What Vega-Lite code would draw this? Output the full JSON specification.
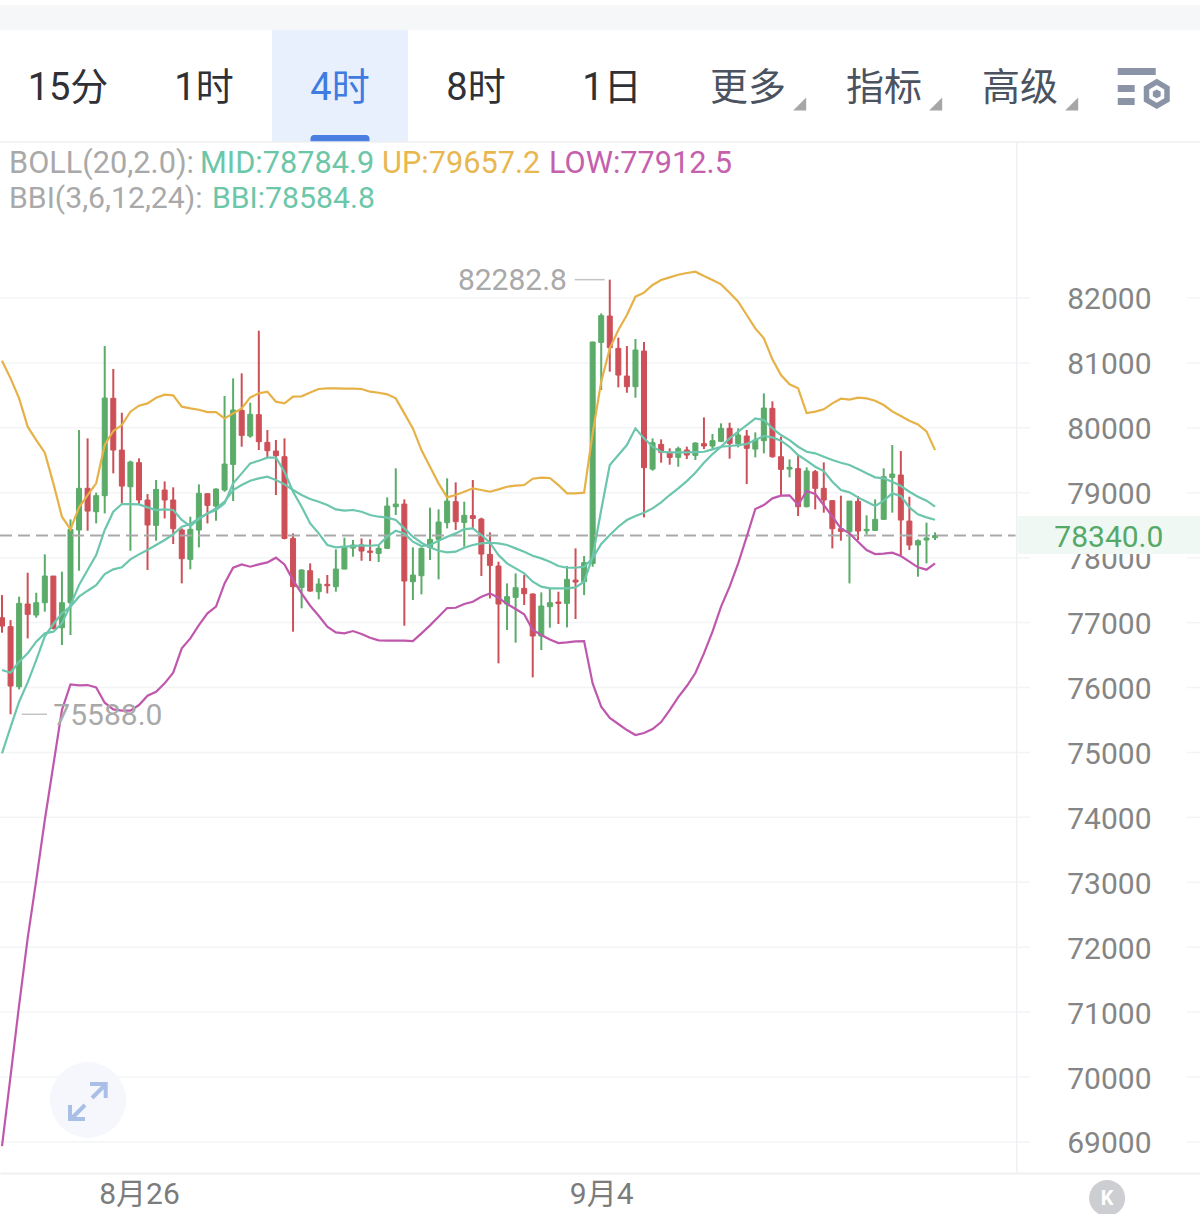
{"$schema":"https://vega.github.io/schema/vega-lite/v6.json","padding":{"left":-3,"right":0,"top":0,"bottom":0},"spacing":0,"bounds":"flush","background":"white","config":{"view":{"stroke":null},"concat":{"spacing":0},"text":{"font":"Roboto, 'Noto Sans CJK SC'"}},
"datasets":{"k":[
{"i":0,"o":77075,"h":77424,"l":76844,"c":76947,"up":81034,"mid":74985,"low":68937,"bbi":76269},
{"i":1,"o":76937,"h":77039,"l":75588,"c":76023,"up":80762,"mid":75391,"low":70015,"bbi":76228},
{"i":2,"o":76012,"h":77399,"l":75971,"c":77296,"up":80454,"mid":75781,"low":71109,"bbi":76397},
{"i":3,"o":77286,"h":77768,"l":76757,"c":77127,"up":80018,"mid":76079,"low":72141,"bbi":76526},
{"i":4,"o":77116,"h":77460,"l":77075,"c":77306,"up":79812,"mid":76423,"low":73034,"bbi":76706},
{"i":5,"o":77306,"h":78051,"l":77168,"c":77717,"up":79617,"mid":76788,"low":73959,"bbi":76834},
{"i":6,"o":77717,"h":77717,"l":76895,"c":76911,"up":79145,"mid":76978,"low":74806,"bbi":76860},
{"i":7,"o":76921,"h":77784,"l":76654,"c":77306,"up":78631,"mid":77142,"low":75653,"bbi":76988},
{"i":8,"o":77306,"h":78590,"l":76808,"c":78436,"up":78436,"mid":77245,"low":76048,"bbi":77270},
{"i":9,"o":78426,"h":79966,"l":77799,"c":79068,"up":78775,"mid":77399,"low":76033,"bbi":77578},
{"i":10,"o":79068,"h":79838,"l":78415,"c":78718,"up":78965,"mid":77491,"low":76038,"bbi":77810},
{"i":11,"o":78708,"h":79001,"l":78528,"c":78955,"up":79145,"mid":77578,"low":76002,"bbi":78041},
{"i":12,"o":78955,"h":81260,"l":78682,"c":80459,"up":79735,"mid":77748,"low":75766,"bbi":78426},
{"i":13,"o":80454,"h":80906,"l":79299,"c":79658,"up":79951,"mid":77820,"low":75663,"bbi":78708},
{"i":14,"o":79658,"h":80233,"l":78836,"c":79103,"up":80043,"mid":77851,"low":75643,"bbi":78826},
{"i":15,"o":79093,"h":79494,"l":78107,"c":79473,"up":80249,"mid":77974,"low":75643,"bbi":78826},
{"i":16,"o":79463,"h":79530,"l":78826,"c":78888,"up":80341,"mid":78051,"low":75730,"bbi":78821},
{"i":17,"o":78888,"h":78980,"l":77810,"c":78503,"up":80377,"mid":78118,"low":75874,"bbi":78775},
{"i":18,"o":78498,"h":79196,"l":78261,"c":79052,"up":80464,"mid":78195,"low":75935,"bbi":78734},
{"i":19,"o":79042,"h":79175,"l":78605,"c":78888,"up":80511,"mid":78272,"low":76064,"bbi":78744},
{"i":20,"o":78888,"h":79083,"l":78210,"c":78446,"up":80500,"mid":78359,"low":76228,"bbi":78734},
{"i":21,"o":78426,"h":78451,"l":77604,"c":77984,"up":80326,"mid":78477,"low":76603,"bbi":78580},
{"i":22,"o":77974,"h":78631,"l":77820,"c":78436,"up":80300,"mid":78518,"low":76757,"bbi":78487},
{"i":23,"o":78426,"h":79129,"l":78159,"c":78991,"up":80279,"mid":78605,"low":76962,"bbi":78595},
{"i":24,"o":78985,"h":78991,"l":78528,"c":78806,"up":80243,"mid":78682,"low":77142,"bbi":78682},
{"i":25,"o":78795,"h":79068,"l":78569,"c":79057,"up":80243,"mid":78759,"low":77245,"bbi":78734},
{"i":26,"o":79042,"h":80490,"l":79016,"c":79442,"up":80146,"mid":78862,"low":77604,"bbi":78836},
{"i":27,"o":79437,"h":80762,"l":78872,"c":80274,"up":80223,"mid":79042,"low":77845,"bbi":79145},
{"i":28,"o":80269,"h":80839,"l":79709,"c":79884,"up":80300,"mid":79119,"low":77897,"bbi":79299},
{"i":29,"o":79874,"h":80387,"l":79848,"c":80208,"up":80469,"mid":79186,"low":77861,"bbi":79453},
{"i":30,"o":80202,"h":81496,"l":79658,"c":79787,"up":80531,"mid":79222,"low":77897,"bbi":79494},
{"i":31,"o":79776,"h":79966,"l":79545,"c":79648,"up":80557,"mid":79247,"low":77928,"bbi":79540},
{"i":32,"o":79643,"h":79812,"l":78965,"c":79571,"up":80403,"mid":79196,"low":78000,"bbi":79540},
{"i":33,"o":79555,"h":79838,"l":78282,"c":78297,"up":80377,"mid":79129,"low":77897,"bbi":79324},
{"i":34,"o":78297,"h":78374,"l":76860,"c":77553,"up":80480,"mid":79042,"low":77655,"bbi":79016},
{"i":35,"o":77542,"h":77820,"l":77219,"c":77810,"up":80485,"mid":78965,"low":77450,"bbi":78785},
{"i":36,"o":77799,"h":77912,"l":77476,"c":77486,"up":80546,"mid":78903,"low":77260,"bbi":78528},
{"i":37,"o":77476,"h":77681,"l":77358,"c":77594,"up":80598,"mid":78862,"low":77106,"bbi":78374},
{"i":38,"o":77589,"h":77733,"l":77450,"c":77568,"up":80608,"mid":78811,"low":76937,"bbi":78195},
{"i":39,"o":77553,"h":78128,"l":77476,"c":77825,"up":80608,"mid":78744,"low":76849,"bbi":78159},
{"i":40,"o":77825,"h":78308,"l":77820,"c":78169,"up":80603,"mid":78724,"low":76834,"bbi":78169},
{"i":41,"o":78148,"h":78272,"l":78015,"c":78195,"up":80603,"mid":78734,"low":76870,"bbi":78179},
{"i":42,"o":78195,"h":78297,"l":77953,"c":78102,"up":80598,"mid":78708,"low":76824,"bbi":78190},
{"i":43,"o":78102,"h":78282,"l":77948,"c":78082,"up":80557,"mid":78657,"low":76767,"bbi":78184},
{"i":44,"o":78066,"h":78195,"l":77933,"c":78143,"up":80541,"mid":78631,"low":76726,"bbi":78195},
{"i":45,"o":78143,"h":78929,"l":78143,"c":78795,"up":80516,"mid":78616,"low":76721,"bbi":78323},
{"i":46,"o":78785,"h":79376,"l":78657,"c":78826,"up":80454,"mid":78580,"low":76721,"bbi":78415},
{"i":47,"o":78826,"h":78898,"l":76952,"c":77640,"up":80223,"mid":78451,"low":76721,"bbi":78374},
{"i":48,"o":77630,"h":78159,"l":77347,"c":77732,"up":79992,"mid":78323,"low":76716,"bbi":78246},
{"i":49,"o":77722,"h":78159,"l":77435,"c":78143,"up":79658,"mid":78230,"low":76834,"bbi":78179},
{"i":50,"o":78159,"h":78770,"l":77964,"c":78282,"up":79401,"mid":78159,"low":76957,"bbi":78195},
{"i":51,"o":78282,"h":78744,"l":77666,"c":78549,"up":79145,"mid":78107,"low":77091,"bbi":78261},
{"i":52,"o":78539,"h":79222,"l":78451,"c":78872,"up":78929,"mid":78082,"low":77224,"bbi":78323},
{"i":53,"o":78862,"h":79160,"l":78426,"c":78554,"up":78965,"mid":78092,"low":77229,"bbi":78374},
{"i":54,"o":78544,"h":78862,"l":78169,"c":78652,"up":79016,"mid":78154,"low":77286,"bbi":78441},
{"i":55,"o":78647,"h":79196,"l":78451,"c":78605,"up":79068,"mid":78195,"low":77322,"bbi":78451},
{"i":56,"o":78595,"h":78616,"l":77717,"c":78056,"up":79042,"mid":78220,"low":77399,"bbi":78349},
{"i":57,"o":78051,"h":78390,"l":77373,"c":77881,"up":79016,"mid":78230,"low":77450,"bbi":78230},
{"i":58,"o":77871,"h":77938,"l":76372,"c":77286,"up":79052,"mid":78220,"low":77383,"bbi":78041},
{"i":59,"o":77286,"h":77604,"l":76885,"c":77399,"up":79093,"mid":78195,"low":77286,"bbi":77912},
{"i":60,"o":77388,"h":77758,"l":76690,"c":77537,"up":79109,"mid":78143,"low":77209,"bbi":77835},
{"i":61,"o":77527,"h":77733,"l":77270,"c":77445,"up":79119,"mid":78092,"low":77127,"bbi":77758},
{"i":62,"o":77440,"h":77450,"l":76156,"c":76793,"up":79216,"mid":78030,"low":76885,"bbi":77630},
{"i":63,"o":76793,"h":77465,"l":76577,"c":77255,"up":79232,"mid":77989,"low":76808,"bbi":77553},
{"i":64,"o":77245,"h":77527,"l":76921,"c":77306,"up":79227,"mid":77938,"low":76741,"bbi":77527},
{"i":65,"o":77317,"h":77476,"l":76978,"c":77296,"up":79119,"mid":77871,"low":76685,"bbi":77527},
{"i":66,"o":77296,"h":77871,"l":76926,"c":77666,"up":78991,"mid":77845,"low":76695,"bbi":77527},
{"i":67,"o":77655,"h":78143,"l":77055,"c":77625,"up":78991,"mid":77845,"low":76711,"bbi":77542},
{"i":68,"o":77630,"h":78025,"l":77424,"c":77923,"up":79001,"mid":77861,"low":76716,"bbi":77630},
{"i":69,"o":77912,"h":81327,"l":77861,"c":81322,"up":79915,"mid":77989,"low":76064,"bbi":78015},
{"i":70,"o":81317,"h":81763,"l":80582,"c":81728,"up":80711,"mid":78210,"low":75704,"bbi":78734},
{"i":71,"o":81722,"h":82282.8,"l":80865,"c":81235,"up":81224,"mid":78349,"low":75530,"bbi":79427},
{"i":72,"o":81224,"h":81389,"l":80623,"c":80813,"up":81507,"mid":78477,"low":75438,"bbi":79581},
{"i":73,"o":80798,"h":81260,"l":80541,"c":80634,"up":81738,"mid":78580,"low":75345,"bbi":79735},
{"i":74,"o":80634,"h":81368,"l":80464,"c":81199,"up":82020,"mid":78641,"low":75268,"bbi":79992},
{"i":75,"o":81183,"h":81322,"l":78621,"c":79386,"up":82082,"mid":78693,"low":75299,"bbi":79838},
{"i":76,"o":79365,"h":79838,"l":79340,"c":79771,"up":82200,"mid":78759,"low":75361,"bbi":79709},
{"i":77,"o":79745,"h":79822,"l":79463,"c":79622,"up":82277,"mid":78852,"low":75468,"bbi":79632},
{"i":78,"o":79617,"h":79684,"l":79432,"c":79545,"up":82318,"mid":78965,"low":75653,"bbi":79622},
{"i":79,"o":79545,"h":79710,"l":79401,"c":79679,"up":82359,"mid":79068,"low":75853,"bbi":79622},
{"i":80,"o":79658,"h":79710,"l":79520,"c":79581,"up":82385,"mid":79180,"low":76023,"bbi":79622},
{"i":81,"o":79576,"h":79776,"l":79504,"c":79766,"up":82405,"mid":79309,"low":76223,"bbi":79627},
{"i":82,"o":79756,"h":80161,"l":79673,"c":79720,"up":82339,"mid":79463,"low":76526,"bbi":79632},
{"i":83,"o":79720,"h":79905,"l":79658,"c":79802,"up":82277,"mid":79596,"low":76860,"bbi":79668},
{"i":84,"o":79792,"h":80069,"l":79787,"c":79992,"up":82210,"mid":79709,"low":77245,"bbi":79709},
{"i":85,"o":79992,"h":80079,"l":79525,"c":79761,"up":82082,"mid":79838,"low":77553,"bbi":79720},
{"i":86,"o":79756,"h":79992,"l":79699,"c":79889,"up":81943,"mid":79941,"low":77912,"bbi":79735},
{"i":87,"o":79874,"h":79966,"l":79134,"c":79684,"up":81738,"mid":80043,"low":78323,"bbi":79751},
{"i":88,"o":79673,"h":79930,"l":79545,"c":79812,"up":81532,"mid":80146,"low":78749,"bbi":79812},
{"i":89,"o":79802,"h":80531,"l":79607,"c":80305,"up":81378,"mid":80120,"low":78811,"bbi":79874},
{"i":90,"o":80300,"h":80408,"l":79540,"c":79555,"up":81055,"mid":79992,"low":78914,"bbi":79853},
{"i":91,"o":79555,"h":79864,"l":78965,"c":79360,"up":80813,"mid":79889,"low":78955,"bbi":79802},
{"i":92,"o":79365,"h":79514,"l":79237,"c":79391,"up":80670,"mid":79812,"low":78960,"bbi":79709},
{"i":93,"o":79371,"h":79581,"l":78641,"c":78785,"up":80608,"mid":79709,"low":78811,"bbi":79581},
{"i":94,"o":78785,"h":79391,"l":78775,"c":79335,"up":80228,"mid":79632,"low":79027,"bbi":79494},
{"i":95,"o":79324,"h":79350,"l":78744,"c":79068,"up":80249,"mid":79607,"low":78980,"bbi":79401},
{"i":96,"o":79068,"h":79468,"l":78693,"c":78888,"up":80285,"mid":79555,"low":78811,"bbi":79335},
{"i":97,"o":78878,"h":78888,"l":78143,"c":78446,"up":80377,"mid":79504,"low":78631,"bbi":79170},
{"i":98,"o":78446,"h":78955,"l":78261,"c":78405,"up":80449,"mid":79463,"low":78451,"bbi":79042},
{"i":99,"o":78400,"h":78872,"l":77604,"c":78872,"up":80434,"mid":79427,"low":78374,"bbi":79006},
{"i":100,"o":78867,"h":78950,"l":78272,"c":78410,"up":80464,"mid":79365,"low":78246,"bbi":78929},
{"i":101,"o":78415,"h":78652,"l":78359,"c":78436,"up":80454,"mid":79299,"low":78118,"bbi":78862},
{"i":102,"o":78420,"h":78898,"l":78415,"c":78590,"up":80418,"mid":79237,"low":78056,"bbi":78795},
{"i":103,"o":78590,"h":79376,"l":78590,"c":79247,"up":80351,"mid":79222,"low":78061,"bbi":78878},
{"i":104,"o":79237,"h":79735,"l":78693,"c":79288,"up":80254,"mid":79170,"low":78076,"bbi":78991},
{"i":105,"o":79273,"h":79643,"l":78041,"c":78580,"up":80182,"mid":79103,"low":78025,"bbi":78950},
{"i":106,"o":78564,"h":78939,"l":78118,"c":78195,"up":80110,"mid":79016,"low":77938,"bbi":78775},
{"i":107,"o":78195,"h":78282,"l":77707,"c":78261,"up":80053,"mid":78939,"low":77851,"bbi":78667},
{"i":108,"o":78272,"h":78539,"l":77912,"c":78302,"up":79946,"mid":78878,"low":77815,"bbi":78621},
{"i":109,"o":78308,"h":78390,"l":78272,"c":78340,"up":79657.2,"mid":78784.9,"low":77912.5,"bbi":78584.8}
],
"ticks":[{"p":69000},{"p":70000},{"p":71000},{"p":72000},{"p":73000},{"p":74000},{"p":75000},{"p":76000},{"p":77000},{"p":78000},{"p":79000},{"p":80000},{"p":81000},{"p":82000}],
"tabs":[{"tab":"15分","kind":"plain"},{"tab":"1时","kind":"plain"},{"tab":"4时","kind":"active"},{"tab":"8时","kind":"plain"},{"tab":"1日","kind":"plain"},{"tab":"更多","kind":"menu"},{"tab":"指标","kind":"menu"},{"tab":"高级","kind":"menu"}],
"one":[{}]},
"vconcat":[
{"width":1200,"height":142,
"layer":[
{"data":{"name":"one"},"mark":{"type":"rect","color":"#f6f7f9"},"encoding":{"y":{"datum":5,"type":"quantitative","scale":{"domain":[142,0],"nice":false,"zero":false},"axis":null},"y2":{"datum":30}}},
{"data":{"values":[{"tab":"4时"}]},"mark":{"type":"rect","color":"#e7f0fc"},"encoding":{"x":{"field":"tab","type":"nominal","scale":{"type":"band","domain":["15分","1时","4时","8时","1日","更多","指标","高级","设置"],"range":[0,1224],"paddingInner":0,"paddingOuter":0},"axis":null},"y":{"datum":30,"type":"quantitative"},"y2":{"datum":142}}},
{"data":{"values":[{"tab":"4时"}]},"mark":{"type":"bar","width":59,"color":"#4a7ee0","cornerRadiusTopLeft":5,"cornerRadiusTopRight":5},"encoding":{"x":{"field":"tab","type":"nominal"},"y":{"datum":135,"type":"quantitative"},"y2":{"datum":142}}},
{"data":{"name":"one"},"mark":{"type":"rule","color":"#eeeff2","strokeWidth":1.5},"encoding":{"y":{"datum":142,"type":"quantitative"}}},
{"data":{"name":"tabs"},"mark":{"type":"text","fontSize":38,"baseline":"middle","align":"center","dy":1,"font":"Roboto, 'Noto Sans CJK SC'"},"encoding":{"x":{"field":"tab","type":"nominal"},"y":{"datum":88,"type":"quantitative"},"text":{"field":"tab"},"color":{"field":"kind","type":"nominal","scale":{"domain":["plain","active","menu"],"range":["#2f3136","#3f7be0","#4c5360"]},"legend":null}}},
{"data":{"values":[{"tab":"更多"},{"tab":"指标"},{"tab":"高级"}]},"mark":{"type":"point","shape":"M1,-1L1,1L-1,1Z","filled":true,"size":169,"opacity":1,"color":"#a6a6a6"},"encoding":{"x":{"field":"tab","type":"nominal","bandPosition":0.88},"y":{"datum":104,"type":"quantitative"}}},
{"data":{"name":"one"},"mark":{"type":"point","shape":"M-1,-.81H.46V-.54H-1ZM-1,-.15H-.35V.12H-1ZM-1,.35H-.35V.62H-1ZM.5,-.39L1,-.1V.48L.5,.77L0,.48V-.1ZM.5,-.15L.21,.02V.36L.5,.53L.79,.36V.02ZM.5,.02L.65,.1V.28L.5,.36L.35,.28V.1Z","filled":true,"size":2704,"opacity":1,"color":"#8b94a7"},"encoding":{"x":{"datum":"设置","type":"nominal","bandPosition":0.41},"y":{"datum":89,"type":"quantitative"}}}
]},
{"width":1200,"height":1072,
"layer":[
{"data":{"name":"ticks"},"mark":{"type":"rule","color":"#f3f4f6","strokeWidth":1.5},"encoding":{
"x":{"datum":-0.234,"type":"quantitative","scale":{"domain":[-0.234,139.95],"nice":false,"zero":false,"padding":0},"axis":{"title":null,"orient":"bottom","offset":-41,"values":[16,70],"labelExpr":"datum.value==16?'8月26':'9月4'","grid":false,"ticks":false,"domain":true,"domainColor":"#eff0f2","domainWidth":2,"labelFont":"Roboto, 'Noto Sans CJK SC'","labelFontSize":30,"labelColor":"#7c7c7c","labelBaseline":"middle","labelPadding":21,"labelFlush":false,"labelOverlap":false}},
"x2":{"datum":120.1},
"y":{"field":"p","type":"quantitative","scale":{"domain":[67890,84403],"nice":false,"zero":false},"axis":{"title":null,"orient":"left","offset":-1151,"values":[69000,70000,71000,72000,73000,74000,75000,76000,77000,78000,79000,80000,81000,82000],"format":"d","grid":false,"ticks":false,"domain":false,"labelFont":"Roboto","labelFontSize":30,"labelColor":"#858585","labelAlign":"right","labelBaseline":"middle","labelPadding":0,"labelOffset":2,"labelFlush":false,"labelOverlap":false}}}},
{"data":{"name":"ticks"},"mark":{"type":"rule","color":"#f3f4f6","strokeWidth":1.5},"encoding":{"x":{"datum":138.4,"type":"quantitative"},"x2":{"datum":139.95},"y":{"field":"p","type":"quantitative"}}},
{"data":{"name":"one"},"mark":{"type":"rule","color":"#eff0f3","strokeWidth":1.5},"encoding":{"x":{"datum":118.55,"type":"quantitative"},"y":{"datum":84403,"type":"quantitative"},"y2":{"datum":68522}}},
{"data":{"name":"k"},"mark":{"type":"rule","strokeWidth":2},"encoding":{"x":{"field":"i","type":"quantitative"},"y":{"field":"h","type":"quantitative"},"y2":{"field":"l"},"color":{"condition":{"test":"datum.c>=datum.o","value":"#5bab69"},"value":"#cd5058"}}},
{"data":{"name":"k"},"mark":{"type":"bar","width":5,"strokeWidth":1},"encoding":{"x":{"field":"i","type":"quantitative"},"y":{"field":"o","type":"quantitative"},"y2":{"field":"c"},"color":{"condition":{"test":"datum.c>=datum.o","value":"#5bab69"},"value":"#cd5058"},"stroke":{"condition":{"test":"datum.c>=datum.o","value":"#5bab69"},"value":"#cd5058"}}},
{"data":{"name":"one"},"mark":{"type":"rule","color":"#a9a9a9","strokeWidth":2,"strokeDash":[12,6]},"encoding":{"x":{"datum":-0.234,"type":"quantitative"},"x2":{"datum":118.4},"y":{"datum":78340,"type":"quantitative"}}},
{"data":{"name":"k"},"mark":{"type":"line","color":"#e6b247","strokeWidth":2.2},"encoding":{"x":{"field":"i","type":"quantitative"},"y":{"field":"up","type":"quantitative"}}},
{"data":{"name":"k"},"mark":{"type":"line","color":"#bf58ad","strokeWidth":2.2},"encoding":{"x":{"field":"i","type":"quantitative"},"y":{"field":"low","type":"quantitative"}}},
{"data":{"name":"k"},"mark":{"type":"line","color":"#6cc6ae","strokeWidth":2.2},"encoding":{"x":{"field":"i","type":"quantitative"},"y":{"field":"mid","type":"quantitative"}}},
{"data":{"name":"k"},"mark":{"type":"line","color":"#6cc6ae","strokeWidth":2.2},"encoding":{"x":{"field":"i","type":"quantitative"},"y":{"field":"bbi","type":"quantitative"}}},
{"data":{"name":"one"},"mark":{"type":"rect","color":"#eff8f2"},"encoding":{"x":{"datum":118.7,"type":"quantitative"},"x2":{"datum":139.95},"y":{"datum":78642,"type":"quantitative"},"y2":{"datum":78056}}},
{"data":{"name":"one"},"mark":{"type":"text","fontSize":30,"color":"#55a968","align":"center","baseline":"middle","dy":2,"font":"Roboto"},"encoding":{"x":{"datum":129.3,"type":"quantitative"},"y":{"datum":78340,"type":"quantitative"},"text":{"value":"78340.0"}}},
{"data":{"name":"one"},"mark":{"type":"text","fontSize":30.7,"color":"#a9a9a9","align":"left","baseline":"middle","dy":2,"font":"Roboto"},"encoding":{"x":{"datum":0.82,"type":"quantitative"},"y":{"datum":84095,"type":"quantitative"},"text":{"value":"BOLL(20,2.0):"}}},
{"data":{"name":"one"},"mark":{"type":"text","fontSize":30.7,"color":"#6cc6a8","align":"left","baseline":"middle","dy":2,"font":"Roboto"},"encoding":{"x":{"datum":23.13,"type":"quantitative"},"y":{"datum":84095,"type":"quantitative"},"text":{"value":"MID:78784.9"}}},
{"data":{"name":"one"},"mark":{"type":"text","fontSize":30.7,"color":"#e8b750","align":"left","baseline":"middle","dy":2,"font":"Roboto"},"encoding":{"x":{"datum":44.39,"type":"quantitative"},"y":{"datum":84095,"type":"quantitative"},"text":{"value":"UP:79657.2"}}},
{"data":{"name":"one"},"mark":{"type":"text","fontSize":30.7,"color":"#c460ac","align":"left","baseline":"middle","dy":2,"font":"Roboto"},"encoding":{"x":{"datum":63.9,"type":"quantitative"},"y":{"datum":84095,"type":"quantitative"},"text":{"value":"LOW:77912.5"}}},
{"data":{"name":"one"},"mark":{"type":"text","fontSize":30.2,"color":"#a9a9a9","align":"left","baseline":"middle","dy":2,"font":"Roboto"},"encoding":{"x":{"datum":0.82,"type":"quantitative"},"y":{"datum":83555,"type":"quantitative"},"text":{"value":"BBI(3,6,12,24):"}}},
{"data":{"name":"one"},"mark":{"type":"text","fontSize":30.2,"color":"#6cc6a8","align":"left","baseline":"middle","dy":2,"font":"Roboto"},"encoding":{"x":{"datum":24.53,"type":"quantitative"},"y":{"datum":83555,"type":"quantitative"},"text":{"value":"BBI:78584.8"}}},
{"data":{"values":[{"p":82282.8}]},"mark":{"type":"text","fontSize":30,"color":"#a9a9a9","align":"right","baseline":"middle","dy":1,"font":"Roboto","text":"82282.8"},"encoding":{"x":{"datum":66,"type":"quantitative"},"y":{"field":"p","type":"quantitative"}}},
{"data":{"values":[{"p":82282.8}]},"mark":{"type":"rule","color":"#c4c4c4","strokeWidth":1.5},"encoding":{"x":{"datum":66.9,"type":"quantitative"},"x2":{"datum":70.4},"y":{"field":"p","type":"quantitative"}}},
{"data":{"values":[{"p":75588}]},"mark":{"type":"text","fontSize":30,"color":"#a9a9a9","align":"left","baseline":"middle","dy":2,"font":"Roboto","text":"75588.0"},"encoding":{"x":{"datum":6,"type":"quantitative"},"y":{"field":"p","type":"quantitative"}}},
{"data":{"values":[{"p":75588}]},"mark":{"type":"rule","color":"#c4c4c4","strokeWidth":1.5},"encoding":{"x":{"datum":2.3,"type":"quantitative"},"x2":{"datum":5.26},"y":{"field":"p","type":"quantitative"}}},
{"data":{"name":"one"},"mark":{"type":"point","shape":"circle","filled":true,"size":5776,"opacity":1,"color":"#f5f7fc"},"encoding":{"x":{"datum":10.05,"type":"quantitative"},"y":{"datum":69646,"type":"quantitative"}}},
{"data":{"name":"one"},"mark":{"type":"point","shape":"M.105,-.053L.447,-.395M.053,-.42H.465V-.053M-.079,.132L-.42,.474M-.474,.132V.5H-.079","filled":false,"size":5776,"opacity":1,"strokeWidth":4,"color":"#a9bfe6"},"encoding":{"x":{"datum":10.05,"type":"quantitative"},"y":{"datum":69646,"type":"quantitative"}}},
{"data":{"name":"one"},"mark":{"type":"point","shape":"circle","filled":true,"size":1296,"opacity":1,"color":"#cdced2"},"encoding":{"x":{"datum":129.1,"type":"quantitative"},"y":{"datum":68136,"type":"quantitative"}}},
{"data":{"name":"one"},"mark":{"type":"text","fontSize":20,"fontWeight":"bold","color":"white","align":"center","baseline":"middle","dy":1,"font":"Roboto"},"encoding":{"x":{"datum":129.1,"type":"quantitative"},"y":{"datum":68136,"type":"quantitative"},"text":{"value":"K"}}}
]}
]}
